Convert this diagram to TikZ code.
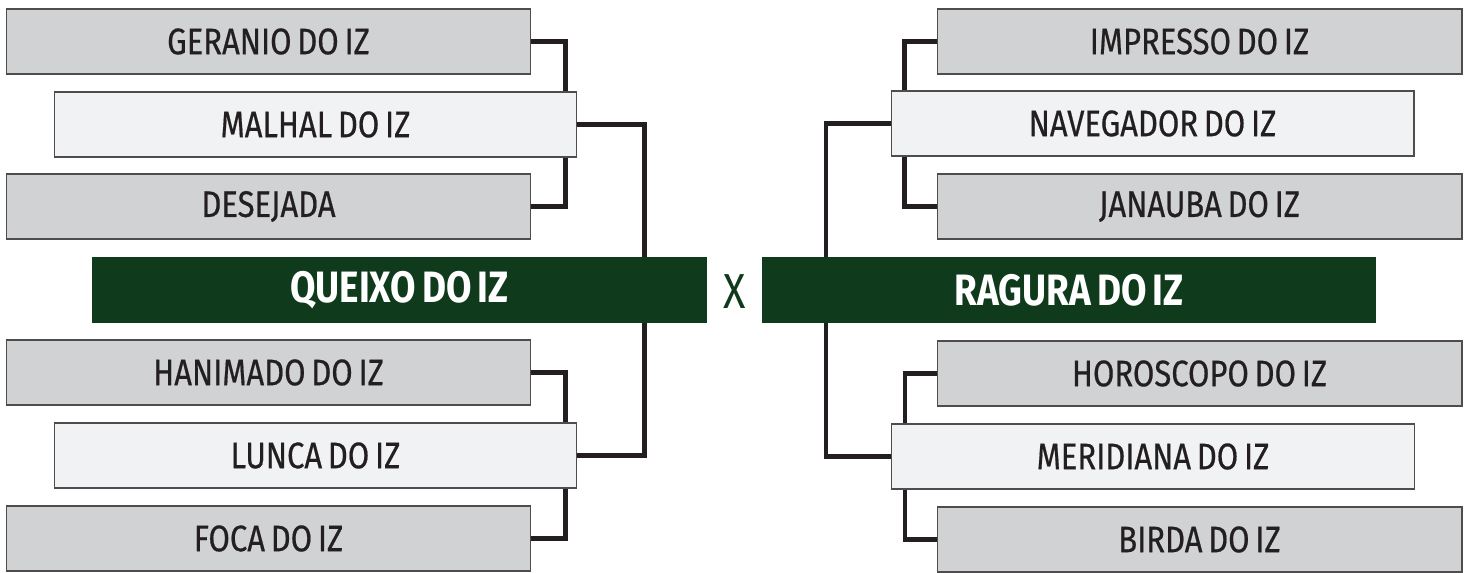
\documentclass[tikz,border=0pt]{standalone}
\usepackage{fontspec}
\setmainfont{Fira Sans}[FakeStretch=0.84, WordSpace=0.7]
\newfontfamily\seedfont{Fira Sans}[FakeStretch=0.84, FakeBold=0.5, WordSpace=0.7]
\definecolor{boxgray}{HTML}{D1D2D4}
\definecolor{boxlight}{HTML}{F1F2F3}
\definecolor{teamgreen}{HTML}{0F3A1C}
\definecolor{linedark}{HTML}{231F20}
\begin{document}
\begin{tikzpicture}[x=0.02cm, y=-0.02cm,
  seed/.style={draw=linedark!80, line width=0.6pt, fill=boxgray, minimum width=10.5cm,
    minimum height=1.3cm, inner sep=0pt, font=\seedfont\fontsize{21}{22}\selectfont, text=linedark},
  winner/.style={seed, fill=boxlight, minimum width=10.46cm},
  final/.style={draw=none, fill=teamgreen, minimum width=12.3cm, minimum height=1.32cm,
    inner sep=0pt, font=\bfseries\fontsize{25}{27}\selectfont, text=white},
  link/.style={draw=linedark, line width=2.5pt}]
  \useasboundingbox (0,0) rectangle (1469,572);
  % left half
  \node[seed] (ger) at (268.5,41.5) {GERANIO DO IZ};
  \node[winner] (mal) at (315.5,124.5) {MALHAL DO IZ};
  \node[seed] (des) at (268.5,206.5) {DESEJADA};
  \node[final] (que) at (399.5,290) {QUEIXO DO IZ};
  \node[seed] (han) at (268.5,372.5) {HANIMADO DO IZ};
  \node[winner] (lun) at (315.5,455.5) {LUNCA DO IZ};
  \node[seed] (foc) at (268.5,538.5) {FOCA DO IZ};
  % right half
  \node[seed] (imp) at (1199.5,41.5) {IMPRESSO DO IZ};
  \node[winner] (nav) at (1152.5,123.5) {NAVEGADOR DO IZ};
  \node[seed] (jan) at (1199.5,206.5) {JANAUBA DO IZ};
  \node[final] (rag) at (1069,290) {RAGURA DO IZ};
  \node[seed] (hor) at (1199.5,373.5) {HOROSCOPO DO IZ};
  \node[winner] (mer) at (1153,456.5) {MERIDIANA DO IZ};
  \node[seed] (bir) at (1199.5,539.5) {BIRDA DO IZ};
  \node[font=\fontsize{28}{30}\selectfont, text=teamgreen] (vs) at (735,292) {X};
  % brackets
  \draw[link] (ger.east) -| ([xshift=-0.24cm]mal.north east);
  \draw[link] (des.east) -| ([xshift=-0.24cm]mal.south east);
  \draw[link] (han.east) -| ([xshift=-0.24cm]lun.north east);
  \draw[link] (foc.east) -| ([xshift=-0.24cm]lun.south east);
  \draw[link] (mal.east) -| ([xshift=-1.26cm]que.north east);
  \draw[link] (lun.east) -| ([xshift=-1.26cm]que.south east);
  \draw[link] (imp.west) -| ([xshift=0.28cm]nav.north west);
  \draw[link] (jan.west) -| ([xshift=0.28cm]nav.south west);
  \draw[link] (hor.west) -| ([xshift=0.28cm]mer.north west);
  \draw[link] (bir.west) -| ([xshift=0.28cm]mer.south west);
  \draw[link] (nav.west) -| ([xshift=1.3cm]rag.north west);
  \draw[link] (mer.west) -| ([xshift=1.3cm]rag.south west);
\end{tikzpicture}
\end{document}
